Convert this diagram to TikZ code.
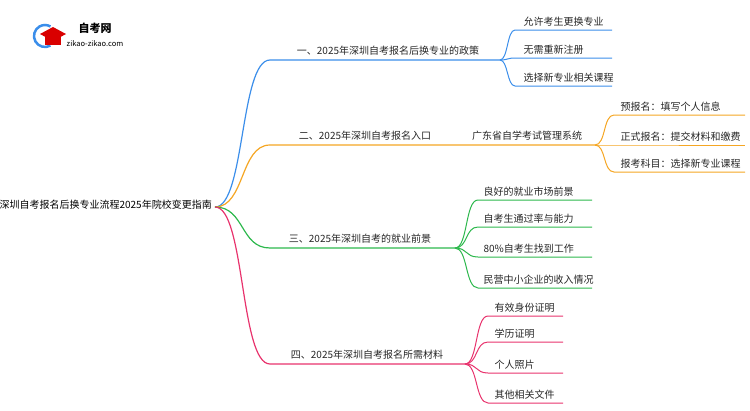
\documentclass[tikz,border=0pt]{standalone}
\usepackage{fontspec}
\setmainfont{Noto Sans CJK SC}
\definecolor{cblue}{HTML}{3B8EEA}
\definecolor{corange}{HTML}{F5A623}
\definecolor{cgreen}{HTML}{2DB84D}
\definecolor{cpink}{HTML}{E8336D}
\begin{document}
\begin{tikzpicture}[x=1pt,y=-1pt,
  every node/.style={font=\fontsize{10}{12}\selectfont,inner sep=1pt},
  link/.style={line width=1.2pt},
  lbl/.style={anchor=south,text=black!85},
  leaf/.style={anchor=south west,text=black!85}]
\useasboundingbox (0,0) rectangle (750,410);
% logo
\draw[cblue,line width=2.5pt] (45,36) ++(60:11) arc (60:300:11);
\fill[red!85!black] (40,34) -- (53,27) -- (66,34) -- (53,41) -- cycle;
\fill[red!85!black] (45,37) rectangle (61,45);
\node (logo) at (95,28) {\bfseries\fontsize{11}{13}\selectfont 自考网};
\node (url) at (95,44) {\fontsize{7.5}{9}\selectfont zikao-zikao.com};
% root
\node[anchor=east] (root) at (213,205) {深圳自考报名后换专业流程2025年院校变更指南};
\coordinate (r) at (215,207);
% level 1
\coordinate (a0) at (270,60);  \coordinate (a1) at (500,60);
\coordinate (b0) at (270,145); \coordinate (b1) at (460,145); \coordinate (b2) at (595,145);
\coordinate (c0) at (270,248); \coordinate (c1) at (455,248);
\coordinate (d0) at (270,364); \coordinate (d1) at (465,364);
\draw[link,cblue] (r) .. controls (245,207) and (240,60) .. (a0) -- (a1);
\draw[link,corange] (r) .. controls (245,207) and (240,145) .. (b0) -- (b2);
\draw[link,cgreen] (r) .. controls (245,207) and (240,248) .. (c0) -- (c1);
\draw[link,cpink] (r) .. controls (245,207) and (240,364) .. (d0) -- (d1);
\node[lbl] (a) at (388,57) {一、2025年深圳自考报名后换专业的政策};
\node[lbl] (b) at (365,142) {二、2025年深圳自考报名入口};
\node[lbl] (bb) at (527,142) {广东省自学考试管理系统};
\node[lbl] (c) at (360,245) {三、2025年深圳自考的就业前景};
\node[lbl] (d) at (367,361) {四、2025年深圳自考报名所需材料};
% level 2
\foreach \y/\t in {30/允许考生更换专业,58/无需重新注册,86/选择新专业相关课程}
  \draw[link,cblue,line width=1pt] (a1) .. controls (508,60) and (507,\y) .. (515,\y) -- (612,\y)
    node[leaf] at (522,\y-2) {\t};
\foreach \y/\t in {115/预报名：填写个人信息,145/正式报名：提交材料和缴费,172/报考科目：选择新专业课程}
  \draw[link,corange,line width=1pt] (b2) .. controls (606,145) and (603,\y) .. (614,\y) -- (745,\y)
    node[leaf] at (619,\y-2) {\t};
\foreach \y/\t in {200/良好的就业市场前景,227/自考生通过率与能力,257/80\%自考生找到工作,288/民营中小企业的收入情况}
  \draw[link,cgreen,line width=1pt] (c1) .. controls (468,248) and (465,\y) .. (478,\y) -- (592,\y)
    node[leaf] at (482,\y-2) {\t};
\foreach \y/\t in {316/有效身份证明,342/学历证明,373/个人照片,403/其他相关文件}
  \draw[link,cpink,line width=1pt] (d1) .. controls (478,364) and (475,\y) .. (488,\y) -- (563,\y)
    node[leaf] at (493,\y-2) {\t};
\end{tikzpicture}
\end{document}
